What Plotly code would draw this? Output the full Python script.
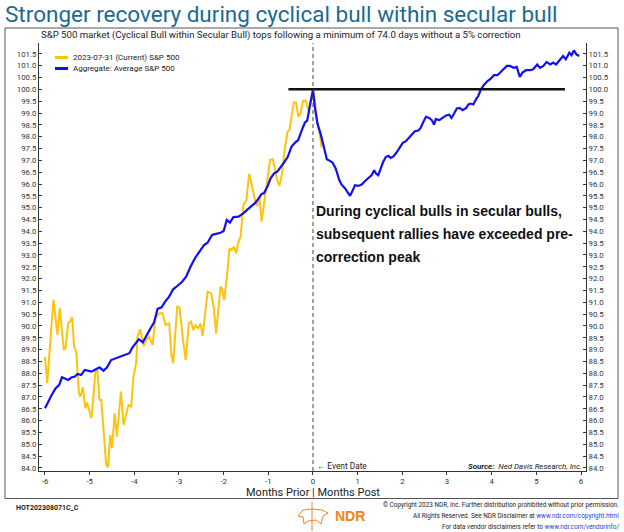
import plotly.graph_objects as go

# ---------------- data ----------------
current_x = [-6.00, -5.95, -5.81, -5.72, -5.67, -5.58, -5.54, -5.48, -5.44, -5.39, -5.35, -5.30,
             -5.24, -5.21, -5.15, -5.10, -5.06, -4.96, -4.91, -4.87, -4.83, -4.78, -4.74, -4.67,
             -4.63, -4.59, -4.54, -4.50, -4.44, -4.39, -4.30, -4.24, -4.19, -4.13, -4.07, -4.02,
             -3.96, -3.93, -3.87, -3.79, -3.73, -3.67, -3.59, -3.53, -3.44, -3.37, -3.30, -3.22,
             -3.17, -3.13, -3.04, -2.99, -2.91, -2.85, -2.78, -2.73, -2.68, -2.63, -2.57, -2.52,
             -2.47, -2.41, -2.36, -2.28, -2.22, -2.17, -2.07, -2.04, -1.99, -1.93, -1.87, -1.82,
             -1.77, -1.72, -1.67, -1.62, -1.56, -1.49, -1.43, -1.37, -1.30, -1.25, -1.20, -1.15,
             -1.10, -1.02, -0.96, -0.90, -0.85, -0.80, -0.75, -0.70, -0.63, -0.57, -0.53, -0.48,
             -0.43, -0.38, -0.33, -0.28, -0.22, -0.16, -0.10, -0.05, 0.00, 0.04, 0.10, 0.16, 0.19]
current_y = [88.70, 87.58, 91.10, 89.62, 90.75, 88.99, 89.06, 90.14, 90.18, 90.37, 89.13, 88.92,
             87.15, 87.01, 87.41, 86.52, 86.76, 86.10, 87.15, 88.14, 88.17, 86.87, 86.87, 85.32,
             84.13, 84.03, 85.39, 84.83, 86.31, 85.32, 87.23, 85.82, 86.24, 86.66, 86.59, 87.86,
             88.42, 89.55, 89.86, 89.15, 89.41, 89.55, 89.20, 90.32, 90.54, 90.54, 90.04, 90.11,
             88.77, 88.42, 90.82, 90.79, 89.41, 88.56, 90.11, 90.18, 89.83, 90.04, 89.90, 90.11,
             89.58, 90.68, 91.45, 91.38, 90.75, 89.69, 91.66, 91.59, 91.10, 92.00, 93.28, 93.21,
             93.35, 93.07, 93.56, 93.78, 95.11, 95.33, 96.43, 95.96, 95.33, 95.07, 95.47, 94.41,
             95.16, 96.17, 97.02, 97.05, 96.60, 96.14, 95.92, 96.38, 97.51, 98.22, 98.26, 98.85,
             99.44, 99.44, 98.85, 98.99, 99.52, 99.52, 99.10, 99.55, 99.93, 99.55, 98.60, 98.00, 97.55]

aggregate_x = [-6.00, -5.93, -5.85, -5.76, -5.68, -5.62, -5.56, -5.48, -5.41, -5.33, -5.27, -5.19,
               -5.11, -5.04, -4.96, -4.89, -4.78, -4.69, -4.61, -4.52, -4.42, -4.35, -4.27, -4.19,
               -4.11, -4.04, -3.96, -3.90, -3.81, -3.74, -3.65, -3.56, -3.48, -3.39, -3.31, -3.22,
               -3.13, -3.04, -2.93, -2.84, -2.74, -2.63, -2.54, -2.44, -2.36, -2.26, -2.17, -2.07,
               -2.00, -1.93, -1.86, -1.78, -1.67, -1.56, -1.45, -1.37, -1.30, -1.22, -1.15, -1.10,
               -1.02, -0.95, -0.87, -0.80, -0.72, -0.65, -0.57, -0.48, -0.40, -0.33, -0.25, -0.18,
               -0.13, -0.07, 0.00, 0.04, 0.10, 0.17, 0.23, 0.31, 0.38, 0.44, 0.51, 0.59, 0.64, 0.72,
               0.78, 0.83, 0.89, 0.94, 1.01, 1.09, 1.16, 1.24, 1.31, 1.37, 1.41, 1.46, 1.51, 1.57,
               1.63, 1.69, 1.74, 1.80, 1.87, 1.93, 2.01, 2.08, 2.16, 2.21, 2.28, 2.36, 2.41, 2.47,
               2.53, 2.60, 2.66, 2.71, 2.75, 2.83, 2.90, 2.98, 3.05, 3.10, 3.16, 3.22, 3.28, 3.35,
               3.43, 3.48, 3.53, 3.59, 3.65, 3.70, 3.76, 3.83, 3.90, 3.98, 4.05, 4.13, 4.19, 4.26,
               4.34, 4.41, 4.49, 4.56, 4.63, 4.69, 4.77, 4.86, 4.93, 5.02, 5.08, 5.16, 5.23, 5.31,
               5.38, 5.44, 5.51, 5.60, 5.66, 5.74, 5.79, 5.84, 5.90, 5.96]
aggregate_y = [86.52, 86.80, 87.08, 87.37, 87.51, 87.83, 87.79, 87.72, 87.82, 87.86, 87.97, 87.93,
               88.14, 88.11, 88.07, 88.14, 88.25, 88.11, 88.25, 88.56, 88.63, 88.70, 88.73, 88.82,
               88.85, 89.10, 89.27, 89.44, 89.31, 89.58, 89.86, 90.14, 90.72, 90.79, 91.03, 91.24,
               91.55, 91.69, 91.87, 92.08, 92.51, 92.90, 93.14, 93.42, 93.52, 93.85, 93.89, 93.94,
               94.01, 94.48, 94.37, 94.60, 94.62, 94.76, 94.95, 95.07, 95.19, 95.38, 95.58, 95.61,
               95.89, 96.24, 96.45, 96.52, 96.71, 96.90, 97.13, 97.58, 97.75, 97.86, 98.28, 98.60,
               98.68, 99.27, 100.00, 99.26, 98.55, 98.13, 97.64, 97.05, 96.98, 96.90, 96.65, 96.16,
               95.97, 95.81, 95.64, 95.50, 95.74, 95.95, 95.92, 95.98, 96.12, 96.26, 96.37, 96.58,
               96.44, 96.37, 96.65, 96.93, 97.14, 97.19, 97.10, 97.17, 97.33, 97.52, 97.74, 97.81,
               97.99, 98.09, 98.23, 98.26, 98.37, 98.62, 98.84, 98.79, 98.70, 98.51, 98.74, 98.70,
               98.79, 98.90, 98.93, 98.79, 98.98, 99.19, 99.22, 99.12, 99.22, 99.36, 99.40, 99.36,
               99.58, 99.72, 100.00, 100.20, 100.34, 100.45, 100.60, 100.60, 100.71, 100.85,
               100.99, 100.99, 100.91, 100.95, 100.53, 100.71, 100.81, 100.81, 100.85, 101.05,
               100.91, 100.99, 101.16, 101.05, 101.13, 101.05, 101.19, 101.41, 101.27, 101.55,
               101.44, 101.65, 101.47, 101.41]

peak_x = [-0.55, 5.64]
peak_y = [100.0, 100.0]

x_ticks = [-6, -5, -4, -3, -2, -1, 0, 1, 2, 3, 4, 5, 6]
x_tick_labels = ["-6", "-5", "-4", "-3", "-2", "-1", "0", "1", "2", "3", "4", "5", "6"]
y_ticks = [84 + 0.5 * i for i in range(36)]
y_tick_labels = [f"{v:.1f}" for v in y_ticks]

title = "Stronger recovery during cyclical bull within secular bull"
subtitle = ("S&P 500 market (Cyclical Bull within Secular Bull) tops following a minimum of "
            "74.0 days without a 5% correction")
series_names = ["2023-07-31 (Current) S&P 500", "Aggregate: Average S&P 500"]
note_lines = ["During cyclical bulls in secular bulls,",
              "subsequent rallies have exceeded pre-",
              "correction peak"]

# ---------------- style ----------------
W, H = 624, 532
PL, PR, PT, PB = 39, 586, 43, 471
COND = "Roboto, Liberation Sans, sans-serif"
SANS = "Liberation Sans, Arial, sans-serif"
YEL = "#FFC20E"
BLU = "#1010F0"
ORANGE = "#F58220"


def px(x):
    return (x - PL) / (PR - PL)


def py(y):
    return (PB - y) / (PB - PT)


fig = go.Figure()
fig.add_trace(go.Scatter(x=current_x, y=current_y, mode="lines", name=series_names[0],
                         line=dict(color=YEL, width=2)))
fig.add_trace(go.Scatter(x=aggregate_x, y=aggregate_y, mode="lines", name=series_names[1],
                         line=dict(color=BLU, width=2.2)))
fig.add_trace(go.Scatter(x=peak_x, y=peak_y, mode="lines", showlegend=False,
                         line=dict(color="#111", width=2.5)))
# invisible trace to host right axis
fig.add_trace(go.Scatter(x=[0], y=[90], yaxis="y2", mode="markers", showlegend=False,
                         marker=dict(opacity=0), hoverinfo="skip"))

yrange = [83.87, 101.96]
xrange = [-6.134, 6.112]
tickfont = dict(family=COND, size=7.8, color="#333")

fig.update_layout(
    width=W, height=H, paper_bgcolor="white", plot_bgcolor="white",
    margin=dict(l=PL, r=W - PR, t=PT, b=H - PB),
    showlegend=False,
    xaxis=dict(range=xrange, tickvals=x_ticks, ticktext=x_tick_labels, showgrid=False,
               zeroline=False, showline=True, linecolor="#333", linewidth=1,
               ticks="outside", ticklen=3, tickcolor="#333", tickfont=tickfont),
    yaxis=dict(range=yrange, tickvals=y_ticks, ticktext=y_tick_labels, showgrid=False,
               zeroline=False, showline=True, linecolor="#333", linewidth=1,
               ticks="inside", ticklen=3, tickcolor="#333", tickfont=tickfont),
    yaxis2=dict(range=yrange, tickvals=y_ticks, ticktext=y_tick_labels, overlaying="y",
                side="right", showgrid=False, zeroline=False, showline=True,
                linecolor="#333", linewidth=1, ticks="inside", ticklen=3, tickcolor="#333",
                tickfont=tickfont),
)

shapes = [
    # outer frame
    dict(type="rect", xref="paper", yref="paper", x0=px(5), x1=px(618), y0=py(498.5), y1=py(28),
         line=dict(color="#555", width=1)),
    # event date dashed line
    dict(type="line", xref="x", yref="paper", x0=0, x1=0, y0=0, y1=1,
         line=dict(color="#444", width=1, dash="4px,3px")),
    # legend samples
    dict(type="line", xref="paper", yref="paper", x0=px(55), x1=px(68), y0=py(57.5), y1=py(57.5),
         line=dict(color=YEL, width=3)),
    dict(type="line", xref="paper", yref="paper", x0=px(55), x1=px(68), y0=py(68.5), y1=py(68.5),
         line=dict(color=BLU, width=3)),
    # logo divider
    dict(type="line", xref="paper", yref="paper", x0=px(312), x1=px(312), y0=py(502), y1=py(531),
         line=dict(color=ORANGE, width=1)),
    # simple logo outline
    dict(type="path", xref="paper", yref="paper",
         path=(f"M {px(298)},{py(516)} L {px(303)},{py(510)} L {px(312)},{py(509)} "
               f"L {px(322)},{py(510)} L {px(328)},{py(513)} L {px(323)},{py(516)} "
               f"L {px(321)},{py(524)} L {px(316)},{py(520)} L {px(308)},{py(521)} "
               f"L {px(304)},{py(524)} L {px(303)},{py(517)} Z"),
         line=dict(color=ORANGE, width=1)),
]
fig.update_layout(shapes=shapes)

ann = []


def text(x, y, s, size, color="#222", family=COND, xanchor="left", yanchor="middle"):
    ann.append(dict(xref="paper", yref="paper", x=px(x), y=py(y), text=s, showarrow=False,
                    xanchor=xanchor, yanchor=yanchor, font=dict(family=family, size=size,
                                                                color=color)))


text(3, 14, title, 22.5, color="#1B6A92")
text(39, 35.5, subtitle, 9.6)
text(71, 57.5, series_names[0], 8)
text(71, 68.5, series_names[1], 8)
for i, line in enumerate(note_lines):
    text(314, 211 + 23 * i, f"<b>{line}</b>", 14, color="#111", family=SANS)
text(315, 466, "\u2190 Event Date", 8.3)
text(584, 466, "<b><i>Source:</i></b>  <i>Ned Davis Research, Inc.</i>", 7.9, xanchor="right")
text(313, 492, "Months Prior | Months Post", 11, xanchor="center")
text(14, 508, "<b>HOT202308071C_C</b>", 7)
text(333, 516, "<b>NDR</b>", 14, color=ORANGE, family=SANS)
text(621, 505, "\u00a9 Copyright 2023 NDR, Inc. Further distribution prohibited without prior permission.",
     6.4, xanchor="right")
text(621, 516, "All Rights Reserved. See NDR Disclaimer at "
     "<span style='color:#1F3FD0'>www.ndr.com/copyright.html</span>", 6.4, xanchor="right")
text(621, 527, "For data vendor disclaimers refer to "
     "<span style='color:#1F3FD0'>www.ndr.com/vendorinfo/</span>", 6.4, xanchor="right")
fig.update_layout(annotations=ann)

fig.write_html("out.html", config={"displayModeBar": False},
               post_script="document.body.style.margin='0';")
